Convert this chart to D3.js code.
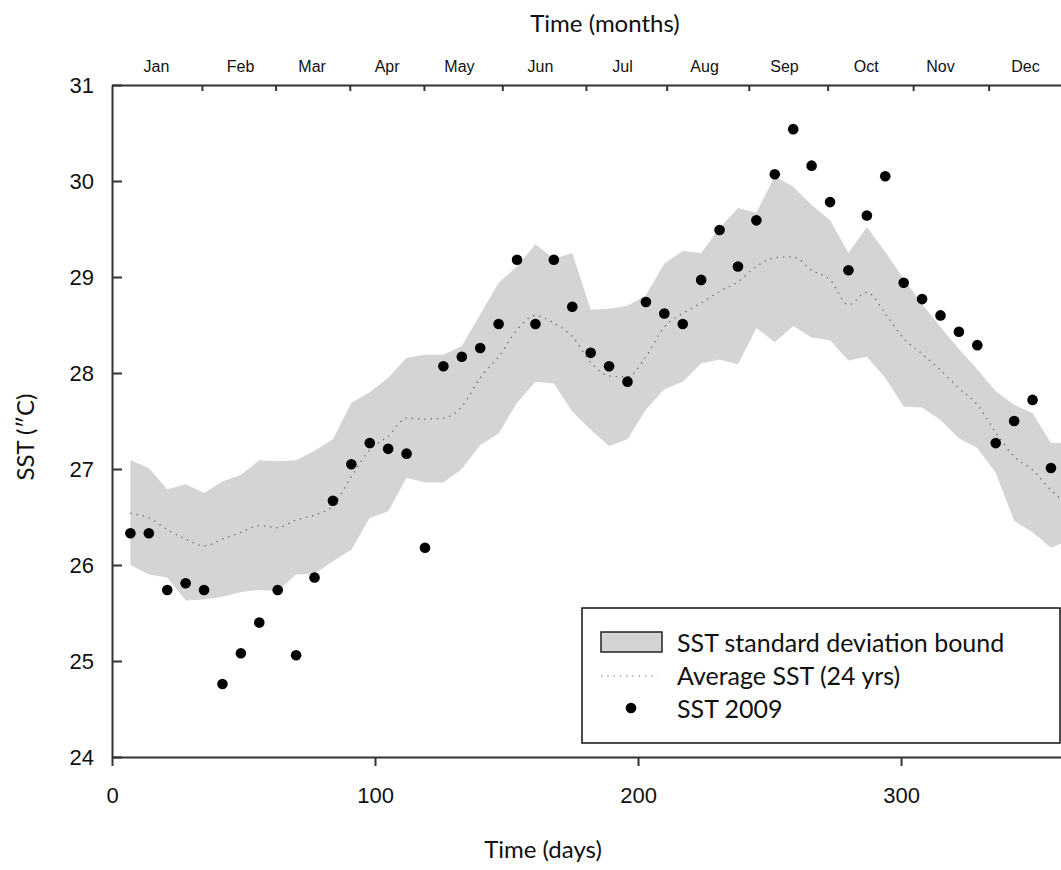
<!DOCTYPE html>
<html>
<head>
<meta charset="utf-8">
<script src="https://cdn.jsdelivr.net/npm/d3@7"></script>
<style>
  body { margin: 0; background: #fff; }
  svg { display: block; font-family: Lato, "Open Sans", sans-serif; }
</style>
</head>
<body>
<div id="chart"></div>
<script>
// SST 2009 against the 24 year average

const width = 1061,
    height = 870,
    margin = ({ top: 85, right: -11, bottom: 113, left: 112 });

// weekly sample days
const days = [7, 14, 21, 28, 35, 42, 49, 56, 63, 70, 77, 84, 91, 98, 105, 112, 119,
    126, 133, 140, 147, 154, 161, 168, 175, 182, 189, 196, 203, 210, 217, 224, 231,
    238, 245, 252, 259, 266, 273, 280, 287, 294, 301, 308, 315, 322, 329, 336, 343,
    350, 357];

const sst2009 = [26.33, 26.33, 25.74, 25.81, 25.74, 24.76, 25.08, 25.40, 25.74, 25.06,
    25.87, 26.67, 27.05, 27.27, 27.21, 27.16, 26.18, 28.07, 28.17, 28.26, 28.51, 29.18,
    28.51, 29.18, 28.69, 28.21, 28.07, 27.91, 28.74, 28.62, 28.51, 28.97, 29.49, 29.11,
    29.59, 30.07, 30.54, 30.16, 29.78, 29.07, 29.64, 30.05, 28.94, 28.77, 28.60, 28.43,
    28.29, 27.27, 27.50, 27.72, 27.01];

// climatology runs one week further
const climDays = [7, 14, 21, 28, 35, 42, 49, 56, 63, 70, 77, 84, 91, 98, 105, 112, 119,
    126, 133, 140, 147, 154, 161, 168, 175, 182, 189, 196, 203, 210, 217, 224, 231,
    238, 245, 252, 259, 266, 273, 280, 287, 294, 301, 308, 315, 322, 329, 336, 343,
    350, 357, 364];

const avgSst = [26.54, 26.49, 26.37, 26.27, 26.20, 26.27, 26.34, 26.41, 26.39, 26.47,
    26.52, 26.62, 26.92, 27.20, 27.34, 27.53, 27.52, 27.53, 27.65, 27.95, 28.17, 28.45,
    28.60, 28.52, 28.38, 28.11, 27.97, 27.96, 28.17, 28.48, 28.62, 28.73, 28.85, 28.95,
    29.11, 29.20, 29.21, 29.07, 28.97, 28.71, 28.84, 28.62, 28.36, 28.20, 28.03, 27.84,
    27.67, 27.38, 27.13, 26.99, 26.78, 26.62];

const upperSst = [27.09, 27.01, 26.79, 26.84, 26.75, 26.87, 26.94, 27.09, 27.08, 27.09,
    27.19, 27.31, 27.69, 27.80, 27.95, 28.16, 28.19, 28.19, 28.28, 28.61, 28.94, 29.11,
    29.34, 29.19, 29.25, 28.66, 28.67, 28.70, 28.81, 29.14, 29.27, 29.25, 29.51, 29.72,
    29.67, 30.05, 29.94, 29.75, 29.59, 29.25, 29.52, 29.26, 28.98, 28.72, 28.48, 28.25,
    28.04, 27.81, 27.67, 27.58, 27.27, 27.27];

const lowerSst = [26.00, 25.90, 25.87, 25.63, 25.64, 25.67, 25.72, 25.74, 25.73, 25.90,
    25.91, 26.04, 26.16, 26.49, 26.56, 26.91, 26.86, 26.86, 27.00, 27.25, 27.37, 27.69,
    27.91, 27.89, 27.60, 27.41, 27.24, 27.31, 27.62, 27.83, 27.91, 28.10, 28.14, 28.09,
    28.47, 28.32, 28.49, 28.37, 28.34, 28.13, 28.17, 27.95, 27.65, 27.64, 27.51, 27.32,
    27.22, 26.96, 26.46, 26.34, 26.18, 26.26];

const months = ["Jan", "Feb", "Mar", "Apr", "May", "Jun", "Jul", "Aug", "Sep", "Oct", "Nov", "Dec"];
const monthTicks = [34.2, 62.2, 90.4, 118.6, 148.4, 180.2, 210.9, 242.1, 272.1, 304.6, 333.3];
const monthLabelDays = [16.7, 48.7, 75.9, 104.4, 131.9, 162.7, 193.9, 225.1, 255.5, 286.6, 314.8, 347.1];

const dayTicks = [0, 100, 200, 300];
const sstTicks = [24, 25, 26, 27, 28, 29, 30, 31];

const legendLabels = ["SST standard deviation bound", "Average SST (24 yrs)", "SST 2009"];

const svg = d3.select("#chart")
    .append("svg")
    .attr("width", width)
    .attr("height", height)
    .attr("viewBox", [0, 0, width, height]);

const x = d3.scaleLinear()
    .domain([0, 365])
    .range([margin.left, width - margin.right]);

const y = d3.scaleLinear()
    .domain([24, 31])
    .range([height - margin.bottom, margin.top]);

const clim = climDays.map((d, i) => ({ day: d, avg: avgSst[i], hi: upperSst[i], lo: lowerSst[i] }));
const obs = days.map((d, i) => ({ day: d, sst: sst2009[i] }));

// standard deviation band
svg.append("path")
    .datum(clim)
    .attr("fill", "#d4d4d4")
    .attr("d", d3.area()
        .x(d => x(d.day))
        .y0(d => y(d.lo))
        .y1(d => y(d.hi)));

// 24 year average
svg.append("path")
    .datum(clim)
    .attr("fill", "none")
    .attr("stroke", "#666")
    .attr("stroke-width", 1.3)
    .attr("stroke-dasharray", "1.3,5")
    .attr("d", d3.line()
        .curve(d3.curveMonotoneX)
        .x(d => x(d.day))
        .y(d => y(d.avg)));

// 2009 points
svg.append("g")
    .selectAll("circle")
    .data(obs)
    .join("circle")
    .attr("cx", d => x(d.day))
    .attr("cy", d => y(d.sst))
    .attr("r", 5.3)
    .attr("fill", "#000");

// axes
const axisColor = "#333";

svg.append("g")
    .attr("transform", `translate(0,${height - margin.bottom})`)
    .call(d3.axisBottom(x).tickValues(dayTicks).tickSize(9).tickSizeOuter(0).tickPadding(21))
    .call(g => g.selectAll("text").attr("font-size", 22).attr("fill", "#111"));

svg.append("g")
    .attr("transform", `translate(${margin.left},0)`)
    .call(d3.axisLeft(y).tickValues(sstTicks).tickFormat(d3.format("d"))
        .tickSize(-10).tickSizeOuter(0).tickPadding(18))
    .call(g => g.selectAll("text").attr("font-size", 22).attr("fill", "#111"));

// months along the top
svg.append("g")
    .attr("transform", `translate(0,${margin.top})`)
    .call(d3.axisTop(x).tickValues(monthTicks).tickSize(-6).tickSizeOuter(0).tickFormat(""));

svg.append("g")
    .attr("transform", `translate(0,${margin.top})`)
    .call(d3.axisTop(x).tickValues(monthLabelDays).tickSize(0).tickPadding(13)
        .tickFormat((d, i) => months[i]))
    .call(g => g.select(".domain").remove())
    .call(g => g.selectAll("text").attr("font-size", 16).attr("fill", "#111"));

svg.selectAll(".domain, .tick line")
    .attr("stroke", axisColor)
    .attr("stroke-width", 2);

// axis titles
svg.append("text")
    .attr("x", 605)
    .attr("y", 32)
    .attr("text-anchor", "middle")
    .attr("font-size", 24)
    .attr("fill", "#111")
    .text("Time (months)");

svg.append("text")
    .attr("x", 543)
    .attr("y", 858)
    .attr("text-anchor", "middle")
    .attr("font-size", 24)
    .attr("fill", "#111")
    .text("Time (days)");

svg.append("text")
    .attr("transform", "translate(34,437) rotate(-90)")
    .attr("text-anchor", "middle")
    .attr("font-size", 24)
    .attr("fill", "#111")
    .text("SST (″C)");

// legend
const legend = svg.append("g");

legend.append("rect")
    .attr("x", 582)
    .attr("y", 608)
    .attr("width", 478)
    .attr("height", 135)
    .attr("fill", "#fff")
    .attr("stroke", "#111")
    .attr("stroke-width", 1.5);

legend.append("rect")
    .attr("x", 601)
    .attr("y", 632)
    .attr("width", 61)
    .attr("height", 20)
    .attr("fill", "#d4d4d4")
    .attr("stroke", "#222")
    .attr("stroke-width", 1.5);

legend.append("line")
    .attr("x1", 601)
    .attr("x2", 658)
    .attr("y1", 676)
    .attr("y2", 676)
    .attr("stroke", "#999")
    .attr("stroke-width", 1.3)
    .attr("stroke-dasharray", "1.3,5");

legend.append("circle")
    .attr("cx", 631)
    .attr("cy", 708)
    .attr("r", 5.3)
    .attr("fill", "#000");

legend.selectAll("text.lab")
    .data(legendLabels)
    .join("text")
    .attr("class", "lab")
    .attr("x", 677)
    .attr("y", (d, i) => 652 + i * 33)
    .attr("font-size", 25)
    .attr("fill", "#111")
    .text(d => d);
</script>
</body>
</html>
